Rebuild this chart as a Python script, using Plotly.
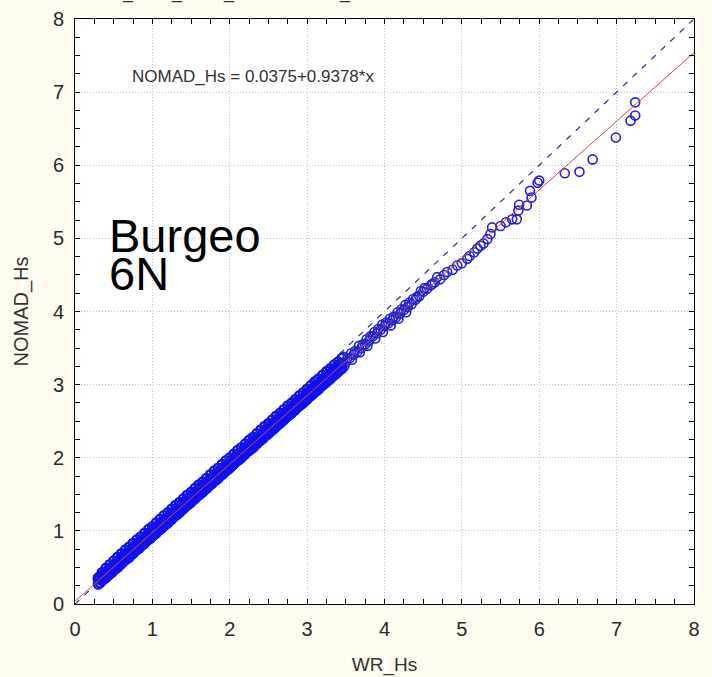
import plotly.graph_objects as go

# ---- data ----
band_x = [0.30, 0.35, 0.40, 0.45, 0.50, 0.55, 0.60, 0.65, 0.70, 0.75, 0.80, 0.85, 0.90, 0.95,
          1.00, 1.05, 1.10, 1.15, 1.20, 1.25, 1.30, 1.35, 1.40, 1.45, 1.50, 1.55, 1.60, 1.65,
          1.70, 1.75, 1.80, 1.85, 1.90, 1.95, 2.00, 2.05, 2.10, 2.15, 2.20, 2.25, 2.30, 2.35,
          2.40, 2.45, 2.50, 2.55, 2.60, 2.65, 2.70, 2.75, 2.80, 2.85, 2.90, 2.95, 3.00, 3.05,
          3.10, 3.15, 3.20, 3.25, 3.30, 3.35, 3.40, 3.45]
band_low = [0.27, 0.32, 0.36, 0.41, 0.46, 0.50, 0.55, 0.60, 0.64, 0.69, 0.74, 0.79, 0.83, 0.88,
            0.93, 0.97, 1.02, 1.07, 1.11, 1.16, 1.21, 1.25, 1.30, 1.35, 1.39, 1.44, 1.49, 1.53,
            1.58, 1.63, 1.68, 1.72, 1.77, 1.82, 1.86, 1.91, 1.96, 2.00, 2.05, 2.10, 2.14, 2.19,
            2.24, 2.29, 2.33, 2.38, 2.43, 2.47, 2.52, 2.57, 2.61, 2.66, 2.71, 2.75, 2.80, 2.85,
            2.90, 2.94, 2.99, 3.04, 3.08, 3.13, 3.18, 3.22]
band_cen = [0.34, 0.39, 0.43, 0.48, 0.53, 0.57, 0.62, 0.67, 0.71, 0.76, 0.81, 0.86, 0.90, 0.95,
            1.00, 1.04, 1.09, 1.14, 1.18, 1.23, 1.28, 1.32, 1.37, 1.42, 1.46, 1.51, 1.56, 1.61,
            1.65, 1.70, 1.75, 1.79, 1.84, 1.89, 1.93, 1.98, 2.03, 2.07, 2.12, 2.17, 2.22, 2.26,
            2.31, 2.36, 2.40, 2.45, 2.50, 2.54, 2.59, 2.64, 2.68, 2.73, 2.78, 2.82, 2.87, 2.92,
            2.97, 3.01, 3.06, 3.11, 3.15, 3.20, 3.25, 3.29]
band_up = [0.36, 0.43, 0.49, 0.54, 0.59, 0.64, 0.69, 0.74, 0.78, 0.83, 0.88, 0.92, 0.97, 1.02,
           1.06, 1.11, 1.16, 1.21, 1.25, 1.30, 1.35, 1.39, 1.44, 1.49, 1.53, 1.58, 1.63, 1.67,
           1.72, 1.77, 1.82, 1.86, 1.91, 1.96, 2.00, 2.05, 2.10, 2.14, 2.19, 2.24, 2.28, 2.33,
           2.38, 2.43, 2.47, 2.52, 2.57, 2.61, 2.66, 2.71, 2.75, 2.80, 2.85, 2.89, 2.94, 2.99,
           3.04, 3.08, 3.13, 3.18, 3.22, 3.27, 3.31, 3.36]
mid_x = [0.325, 0.375, 0.425, 0.475, 0.525, 0.575, 0.625, 0.675, 0.725, 0.775, 0.825, 0.875,
         0.925, 0.975, 1.025, 1.075, 1.125, 1.175, 1.225, 1.275, 1.325, 1.375, 1.425, 1.475,
         1.525, 1.575, 1.625, 1.675, 1.725, 1.775, 1.825, 1.875, 1.925, 1.975, 2.025, 2.075,
         2.125, 2.175, 2.225, 2.275, 2.325, 2.375, 2.425, 2.475, 2.525, 2.575, 2.625, 2.675,
         2.725, 2.775, 2.825, 2.875, 2.925, 2.975, 3.025, 3.075, 3.125, 3.175, 3.225, 3.275,
         3.325, 3.375, 3.425]
mid_y = [0.36, 0.41, 0.46, 0.50, 0.55, 0.60, 0.65, 0.69, 0.74, 0.79, 0.83, 0.88,
         0.93, 0.97, 1.02, 1.07, 1.11, 1.16, 1.21, 1.26, 1.30, 1.35, 1.40, 1.44,
         1.49, 1.54, 1.58, 1.63, 1.68, 1.72, 1.77, 1.82, 1.86, 1.91, 1.96, 2.01,
         2.05, 2.10, 2.15, 2.19, 2.24, 2.29, 2.33, 2.38, 2.43, 2.47, 2.52, 2.57,
         2.62, 2.66, 2.71, 2.76, 2.80, 2.85, 2.90, 2.94, 2.99, 3.04, 3.08, 3.13,
         3.18, 3.22, 3.27]
mid2_y = [0.29, 0.34, 0.39, 0.43, 0.48, 0.53, 0.58, 0.62, 0.67, 0.72, 0.76, 0.81,
          0.86, 0.90, 0.95, 1.00, 1.04, 1.09, 1.14, 1.19, 1.23, 1.28, 1.33, 1.37,
          1.42, 1.47, 1.51, 1.56, 1.61, 1.65, 1.70, 1.75, 1.79, 1.84, 1.89, 1.94,
          1.98, 2.03, 2.08, 2.12, 2.17, 2.22, 2.26, 2.31, 2.36, 2.40, 2.45, 2.50,
          2.55, 2.59, 2.64, 2.69, 2.73, 2.78, 2.83, 2.87, 2.92, 2.97, 3.01, 3.06,
          3.11, 3.15, 3.20]

tail_x = [3.50, 3.55, 3.60, 3.65, 3.70, 3.75, 3.80, 3.85, 3.90, 3.95, 4.00, 4.05, 4.10, 4.15,
          4.20, 4.25, 4.30, 4.35, 4.40, 4.45, 4.50, 4.55, 4.60, 4.65, 4.72, 4.81, 4.94, 5.07,
          5.16, 5.24, 5.33, 5.37, 5.39, 5.50, 5.57, 5.65, 5.71, 5.73, 5.74, 5.84, 5.90, 5.88,
          5.98, 6.00, 6.33, 6.52, 6.69, 6.99, 7.18, 7.24, 7.24,
          3.52, 3.62, 3.72, 3.82, 3.92, 4.02, 4.12, 4.22, 4.32, 4.42, 4.52, 4.62, 4.68, 4.77,
          4.88, 5.00, 5.10, 5.20, 5.28,
          3.47, 3.57, 3.67, 3.77, 3.87, 3.97, 4.07, 4.17, 4.27, 4.37, 4.47,
          3.48, 3.58, 3.68, 3.78, 3.88, 3.98, 4.08, 4.18, 4.28]
tail_y = [3.31, 3.36, 3.41, 3.45, 3.50, 3.55, 3.60, 3.66, 3.70, 3.75, 3.80, 3.84, 3.88, 3.92,
          3.97, 4.02, 4.06, 4.10, 4.16, 4.21, 4.27, 4.31, 4.36, 4.40, 4.44, 4.54, 4.63, 4.72,
          4.81, 4.90, 4.99, 5.06, 5.15, 5.17, 5.22, 5.26, 5.26, 5.38, 5.46, 5.45, 5.56, 5.65,
          5.76, 5.79, 5.89, 5.91, 6.08, 6.38, 6.61, 6.68, 6.86,
          3.36, 3.46, 3.55, 3.66, 3.76, 3.85, 3.93, 4.03, 4.12, 4.20, 4.32, 4.38, 4.47, 4.50,
          4.57, 4.66, 4.76, 4.86, 4.93,
          3.38, 3.43, 3.53, 3.62, 3.72, 3.82, 3.90, 3.99, 4.09, 4.17, 4.28,
          3.25, 3.34, 3.44, 3.53, 3.63, 3.72, 3.81, 3.90, 3.99]

fit_intercept = 0.0375
fit_slope = 0.9378
line_x = [0, 8]
ref_x = [0, 8]
ref_y = [0, 8]

ticks = [0, 1, 2, 3, 4, 5, 6, 7, 8]

BLUE = "#1010F0"
BLUE2 = "#2222D0"
FONT = "Liberation Sans, Arial, sans-serif"

fig = go.Figure()

dense_x = band_x + band_x + band_x + mid_x + mid_x
dense_y = band_low + band_cen + band_up + mid_y + mid2_y
fig.add_trace(go.Scatter(
    x=dense_x, y=dense_y, mode="markers",
    marker=dict(symbol="circle-open", size=9, color=BLUE, line=dict(width=2.2, color=BLUE)),
    showlegend=False, hoverinfo="skip"))

fig.add_trace(go.Scatter(
    x=tail_x, y=tail_y, mode="markers",
    marker=dict(symbol="circle-open", size=9, color=BLUE2, line=dict(width=1.6, color=BLUE2)),
    showlegend=False, hoverinfo="skip"))

fig.add_trace(go.Scatter(
    x=ref_x, y=ref_y, mode="lines",
    line=dict(color="#2a2a9a", width=1.2, dash="6px,7px"),
    showlegend=False, hoverinfo="skip"))

fig.add_trace(go.Scatter(
    x=line_x, y=[fit_intercept + fit_slope * v for v in line_x], mode="lines",
    line=dict(color="#c84848", width=1),
    showlegend=False, hoverinfo="skip"))

axis_common = dict(
    range=[0, 8], tickvals=ticks, ticks="inside", ticklen=5, tickcolor="black", tickwidth=1,
    showline=True, linecolor="black", linewidth=1, mirror="allticks", automargin=False,
    showgrid=True, gridcolor="#c4c4c4", griddash="1px,2px", gridwidth=1, zeroline=False,
    minor=dict(dtick=0.25, ticks="inside", ticklen=5, tickcolor="black", showgrid=False),
    tickfont=dict(family=FONT, size=20, color="#2a2a2a"),
)

fig.update_xaxes(**axis_common, ticklabelstandoff=7,
                 title=dict(text="WR_Hs", font=dict(family=FONT, size=19, color="#333333"), standoff=18))
fig.update_yaxes(**axis_common, ticklabelstandoff=6,
                 title=dict(text="NOMAD_Hs", font=dict(family=FONT, size=20, color="#333333"), standoff=18))

fig.add_annotation(x=0.71, y=7.22, xref="x", yref="y", text="NOMAD_Hs = 0.0375+0.9378*x",
                   showarrow=False, xanchor="left", yanchor="middle",
                   font=dict(family=FONT, size=17, color="#333333"))
fig.add_annotation(x=0.41, y=5.04, xref="x", yref="y", text="Burgeo",
                   showarrow=False, xanchor="left", yanchor="middle",
                   font=dict(family=FONT, size=47, color="#000000"))
fig.add_annotation(x=0.41, y=4.52, xref="x", yref="y", text="6N",
                   showarrow=False, xanchor="left", yanchor="middle",
                   font=dict(family=FONT, size=47, color="#000000"))

# remains of the cropped title at the very top
for px in [0.0856, 0.165, 0.249, 0.436]:
    fig.add_annotation(x=px, y=1.0, xref="paper", yref="paper", text="_", showarrow=False,
                       xanchor="center", yanchor="bottom", yshift=14,
                       font=dict(family=FONT, size=18, color="#333333"))

fig.update_layout(
    width=712, height=677,
    margin=dict(l=75, r=18, t=19, b=73),
    paper_bgcolor="#FFFBF0", plot_bgcolor="#FFFFFF",
    showlegend=False,
)

fig.write_html("out.html")
